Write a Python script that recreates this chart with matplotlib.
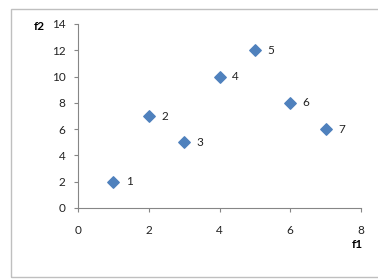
import matplotlib
matplotlib.use("Agg")
import matplotlib.pyplot as plt
from matplotlib.patches import Rectangle

# data
f1 = [1, 2, 3, 4, 5, 6, 7]
f2 = [2, 7, 5, 10, 12, 8, 6]
point_labels = ["1", "2", "3", "4", "5", "6", "7"]
x_ticks = [0, 2, 4, 6, 8]
y_ticks = [0, 2, 4, 6, 8, 10, 12, 14]

plt.rcParams['font.family'] = ['Lato', 'DejaVu Sans']
W, H = 378, 280
fig = plt.figure(figsize=(W / 100, H / 100), dpi=100)

# outer chart border
fig.patches.append(Rectangle((11 / W, 1 - 277 / H), 1.0, (277 - 9) / H,
                             transform=fig.transFigure, fill=False,
                             edgecolor="#bfbfbf", lw=1.0))

ax = fig.add_axes([78 / W, 1 - 208 / H, (361 - 78) / W, (208 - 24) / H])
ax.scatter(f1, f2, marker="D", s=34, color="#4F81BD", zorder=3, clip_on=False)
for x, y, lab in zip(f1, f2, point_labels):
    ax.annotate(lab, (x, y), xytext=(9, 0), textcoords="offset points",
                va="center", ha="left", fontsize=8.5, color="#222222")

ax.set_xlim(0, 8)
ax.set_ylim(0, 14)
ax.set_xticks(x_ticks)
ax.set_yticks(y_ticks)
for s in ("top", "right"):
    ax.spines[s].set_visible(False)
for s in ("left", "bottom"):
    ax.spines[s].set_color("#868686")
    ax.spines[s].set_linewidth(0.8)
ax.tick_params(axis="both", direction="out", length=3, width=0.8,
               color="#868686", labelsize=8.5, labelcolor="#222222")
ax.tick_params(axis="x", pad=9)
ax.tick_params(axis="y", pad=6)

fig.text(39 / W, 1 - 26 / H, "f2", fontsize=8.5, fontweight="bold",
         ha="center", va="center")
fig.text(357 / W, 1 - 244 / H, "f1", fontsize=8.5, fontweight="bold",
         ha="center", va="center")

fig.savefig("out.png", dpi=100)
